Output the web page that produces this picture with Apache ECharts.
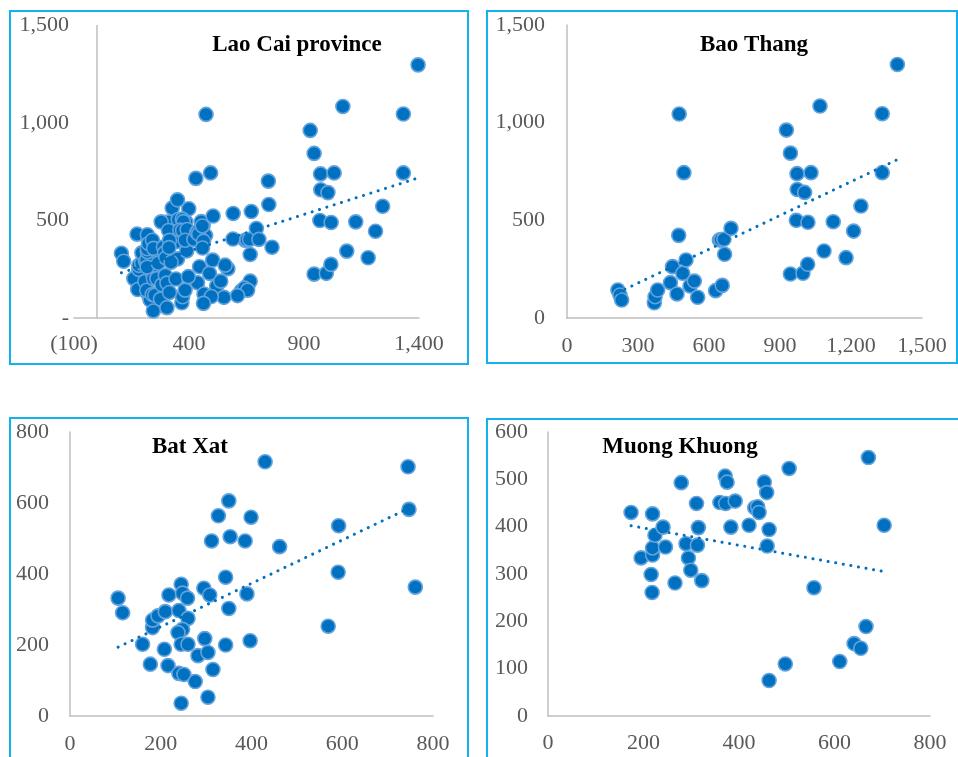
<!DOCTYPE html>
<html>
<head>
<meta charset="utf-8">
<script src="https://cdn.jsdelivr.net/npm/echarts@6/dist/echarts.min.js"></script>
<style>
html,body{margin:0;padding:0;background:#fff;}
#chart{width:958px;height:757px;}
</style>
</head>
<body>
<div id="chart"></div>
<script>
// ---- Data (x, y) ----
const baoThang = [
  [215,143],[224,118],[231,92],[369,78],[372,109],[383,143],[437,181],[446,263],[465,123],
  [472,423],[474,1044],[489,229],[494,744],[503,297],[520,164],[538,189],[552,106],[628,140],
  [656,167],[644,399],[651,401],[663,403],[666,326],[693,459],[927,962],[944,844],[972,739],
  [1031,744],[973,658],[1004,643],[969,500],[1018,490],[1125,493],[944,225],[997,229],[1017,275],
  [1086,343],[1179,309],[1211,445],[1242,573],[1332,744],[1332,1046],[1069,1085],[1396,1298]
];
const batXat = [
  [106,332],[116,291],[160,202],[177,146],[182,249],[182,270],[194,282],[210,294],[208,188],
  [218,341],[216,142],[240,297],[245,371],[248,346],[259,332],[260,275],[248,244],[238,235],
  [245,202],[260,202],[240,120],[251,117],[245,36],[276,97],[282,170],[295,360],[308,341],
  [297,218],[304,179],[315,131],[304,53],[312,493],[327,564],[350,606],[353,505],[343,391],
  [350,303],[343,200],[430,716],[399,560],[386,493],[462,477],[390,344],[397,212],[592,536],
  [591,405],[569,253],[745,702],[747,582],[761,363]
];
const muongKhuong = [
  [174,430],[219,427],[195,334],[216,299],[218,261],[219,340],[219,355],[224,382],[241,399],
  [246,357],[279,493],[266,281],[289,364],[294,334],[299,308],[322,286],[311,449],[315,398],
  [313,361],[371,507],[375,494],[360,451],[372,449],[392,454],[383,399],[421,403],[433,440],
  [439,442],[442,430],[453,494],[458,472],[463,394],[459,359],[505,523],[671,546],[704,403],
  [557,271],[666,189],[641,153],[655,143],[611,115],[497,110],[463,75]
];
// Province = all districts together
const laoCai = baoThang.concat(batXat, muongKhuong);

// Linear trend lines (endpoints)
const trendLaoCai = [[106,232],[1396,718]];
const trendBaoThang = [[215,130],[1396,811]];
const trendBatXat = [[106,194],[761,594]];
const trendMuongKhuong = [[174,402],[704,305]];

// Axis ticks
const laoCaiXTicks = [-100, 400, 900, 1400];
const laoCaiYTicks = [0, 500, 1000, 1500];
const baoThangXTicks = [0, 300, 600, 900, 1200, 1500];
const baoThangYTicks = [0, 500, 1000, 1500];
const batXatXTicks = [0, 200, 400, 600, 800];
const batXatYTicks = [0, 200, 400, 600, 800];
const muongKhuongXTicks = [0, 200, 400, 600, 800];
const muongKhuongYTicks = [0, 100, 200, 300, 400, 500, 600];

const titles = ['Lao Cai province', 'Bao Thang', 'Bat Xat', 'Muong Khuong'];

// ---- Styling ----
const FONT = '"Liberation Serif", "Times New Roman", serif';
const LABEL_COLOR = '#595959';
const AXIS_COLOR = '#BFBFBF';
const DOT_COLOR = '#0070C0';
const BORDER = '#12B2EE';

function comma(v) { return Math.abs(v).toLocaleString('en-US'); }
function accounting(v) {
  if (v === 0) return '-';
  if (v < 0) return '(' + comma(v) + ')';
  return comma(v);
}
function plain(v) { return v.toLocaleString('en-US'); }

function axis(ticks, fmt, margin, idx) {
  return {
    type: 'value',
    gridIndex: idx,
    min: ticks[0],
    max: ticks[ticks.length - 1],
    interval: ticks[1] - ticks[0],
    splitLine: { show: false },
    axisTick: { show: false },
    axisLine: { show: true, onZero: true, lineStyle: { color: AXIS_COLOR, width: 1.5 } },
    axisLabel: {
      color: LABEL_COLOR, fontFamily: FONT, fontSize: 22,
      margin: margin,
      formatter: fmt
    }
  };
}

const grids = [
  { left: 74, top: 25.5, width: 345, height: 292.5 },
  { left: 567, top: 25, width: 355, height: 293 },
  { left: 70, top: 432, width: 363, height: 284 },
  { left: 548, top: 432, width: 382, height: 284 }
];

const xTicks = [laoCaiXTicks, baoThangXTicks, batXatXTicks, muongKhuongXTicks];
const yTicks = [laoCaiYTicks, baoThangYTicks, batXatYTicks, muongKhuongYTicks];
const fmts = [accounting, plain, plain, plain];
const yMargins = [5, 22, 21, 20];
const xMargins = [15, 17, 17, 16];
const points = [laoCai, baoThang, batXat, muongKhuong];
const trends = [trendLaoCai, trendBaoThang, trendBatXat, trendMuongKhuong];

const series = [];
for (let i = 0; i < 4; i++) {
  series.push({
    type: 'scatter',
    xAxisIndex: i, yAxisIndex: i,
    data: points[i],
    symbolSize: 14,
    itemStyle: { color: DOT_COLOR, borderColor: '#62A3DC', borderWidth: 1.6, opacity: 1 },
    z: 2
  });
  series.push({
    type: 'line',
    xAxisIndex: i, yAxisIndex: i,
    data: trends[i],
    showSymbol: false,
    symbol: 'none',
    lineStyle: { color: DOT_COLOR, width: 3, type: [0.1, 7.6], cap: 'round' },
    z: 3
  });
}

const titlePos = [[297, 45], [754, 45], [190, 447], [680, 447]];
const boxes = [
  { x: 10, y: 11, width: 458, height: 353 },
  { x: 487, y: 11, width: 470, height: 352 },
  { x: 10, y: 418, width: 458, height: 400 },
  { x: 487, y: 419, width: 490, height: 400 }
];

const graphic = [];
boxes.forEach(b => graphic.push({
  type: 'rect', shape: b, silent: true, z: 0,
  style: { fill: 'none', stroke: BORDER, lineWidth: 2 }
}));
titles.forEach((t, i) => graphic.push({
  type: 'text', x: titlePos[i][0], y: titlePos[i][1], z: 10,
  style: { text: t, font: 'bold 23px ' + FONT, fill: '#000', align: 'center', verticalAlign: 'middle' }
}));

const chart = echarts.init(document.getElementById('chart'), null, { renderer: 'canvas' });
chart.setOption({
  animation: false,
  backgroundColor: '#fff',
  grid: grids,
  xAxis: xTicks.map((t, i) => axis(t, fmts[i], xMargins[i], i)),
  yAxis: yTicks.map((t, i) => axis(t, fmts[i], yMargins[i], i)),
  series: series,
  graphic: graphic
});
</script>
</body>
</html>
